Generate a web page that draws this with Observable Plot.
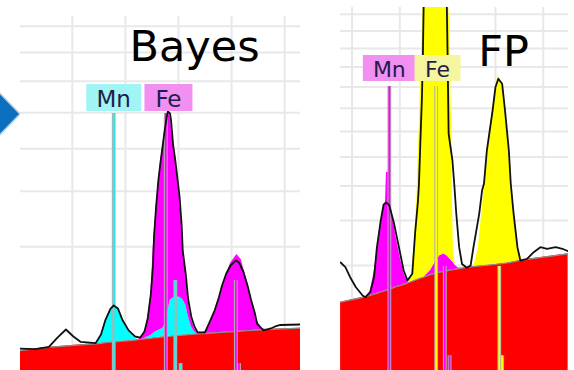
<!DOCTYPE html>
<html>
<head>
<meta charset="utf-8">
<script src="https://cdn.jsdelivr.net/npm/d3@7"></script>
<script src="https://cdn.jsdelivr.net/npm/@observablehq/plot@0.6"></script>
<style>
  html, body { margin: 0; padding: 0; background: #fff; overflow: hidden; }
  #page { position: relative; width: 574px; height: 370px; overflow: hidden; background: #fff; }
  .panel { position: absolute; top: 0; height: 370px; overflow: hidden; }
  #bayes { left: 20px; width: 280px; }
  #fp { left: 340px; width: 228px; }
  #arrow { position: absolute; left: 0; top: 0; }
</style>
</head>
<body>
<div id="page">
  <svg id="arrow" width="24" height="170">
    <polygon points="-10,83 20,114 -10,145" fill="#0a6fbf" stroke="#b9cfe2" stroke-width="1.5"></polygon>
  </svg>
  <div id="bayes" class="panel"></div>
  <div id="fp" class="panel"></div>
</div>
<script>
// Emission line markers (keV): Kα, Kβ and a minor line for each element,
// with intensities relative to Kα.
const lineElements = ["Mn", "Mn", "Mn", "Fe", "Fe", "Fe"];
const lineEnergies = [5.89, 6.47, 6.52, 6.38, 7.04, 7.07];
const lineRelative = [1, 0.14, 0.004, 1, 0.14, 0.004];

// Element tags shown above the Kα lines
const labelElements = ["Mn", "Fe"];
const labelEnergies = [5.89, 6.38];

// Vertical grid (keV)
const gridEnergies = [5.5, 6.0, 6.5, 7.0, 7.5];

// ---- Bayes fit ----
const bayesEnergy = [5.01, 5.29, 5.58, 5.72, 5.77, 5.81, 5.86, 5.89, 5.93, 5.97, 6.03, 6.09, 6.12, 6.16, 6.20, 6.24, 6.26, 6.29, 6.32, 6.35, 6.38, 6.40, 6.42, 6.45, 6.48, 6.51, 6.54, 6.57, 6.59, 6.62, 6.65, 6.68, 6.71, 6.75, 6.80, 6.85, 6.90, 6.94, 6.99, 7.05, 7.09, 7.14, 7.19, 7.23, 7.28, 7.33, 7.37, 7.65];
const bayesBackground = [50, 62, 71, 75, 77, 80, 82, 83, 84, 86, 88, 91, 93, 95, 98, 99, 101, 103, 104, 106, 107, 108, 109, 111, 112, 113, 115, 116, 117, 119, 120, 121, 122, 123, 125, 127, 129, 130, 132, 135, 136, 138, 140, 142, 143, 145, 146, 153];
const bayesMn = [0, 0, 0, 3, 36, 115, 199, 231, 205, 121, 46, 7, 0, 0, 6, 14, 22, 31, 38, 45, 74, 150, 248, 269, 277, 273, 252, 198, 119, 44, 12, 0, 0, 0, 0, 0, 0, 0, 0, 0, 0, 0, 0, 0, 0, 0, 0, 0];
const bayesFe = [0, 0, 0, 0, 0, 0, 0, 0, 0, 0, 0, 0, 0, 13, 66, 290, 820, 1575, 2272, 2905, 3533, 3780, 3532, 2834, 2119, 1503, 728, 301, 121, 52, 20, 3, 0, 11, 62, 146, 304, 462, 632, 751, 681, 443, 226, 73, 8, 0, 0, 0];
const bayesMeasuredEnergy = [5.01, 5.15, 5.28, 5.36, 5.44, 5.51, 5.58, 5.72, 5.77, 5.81, 5.86, 5.89, 5.93, 5.97, 6.03, 6.09, 6.14, 6.18, 6.21, 6.24, 6.26, 6.27, 6.29, 6.31, 6.33, 6.35, 6.37, 6.39, 6.40, 6.42, 6.43, 6.45, 6.47, 6.49, 6.51, 6.53, 6.54, 6.57, 6.59, 6.62, 6.65, 6.68, 6.75, 6.80, 6.84, 6.88, 6.91, 6.95, 6.99, 7.04, 7.07, 7.11, 7.15, 7.18, 7.22, 7.24, 7.30, 7.37, 7.41, 7.46, 7.65];
const bayesMeasured = [57, 55, 63, 103, 145, 108, 83, 78, 118, 201, 289, 314, 289, 208, 140, 108, 103, 134, 214, 422, 738, 1173, 1709, 2232, 2652, 3055, 3488, 3889, 4038, 3978, 3772, 3082, 2701, 2277, 1889, 1341, 943, 615, 375, 229, 163, 129, 129, 201, 273, 384, 504, 639, 738, 804, 777, 663, 504, 375, 250, 181, 140, 151, 163, 172, 175];
const bayesGridCounts = [1000, 2000, 3000, 4000, 5000, 6000, 7000];

// ---- FP fit ----
const fpEnergy = [5.38, 5.59, 5.65, 5.69, 5.73, 5.78, 5.82, 5.85, 5.86, 5.89, 5.90, 5.93, 5.96, 6.01, 6.05, 6.09, 6.12, 6.15, 6.18, 6.215, 6.25, 6.32, 6.38, 6.42, 6.46, 6.49, 6.52, 6.54, 6.55, 6.56, 6.58, 6.61, 6.65, 6.70, 6.74, 6.78, 6.82, 6.86, 6.91, 6.95, 6.99, 7.03, 7.07, 7.12, 7.16, 7.20, 7.24, 7.28, 7.37, 7.76];
const fpBackground = [438, 493, 510, 523, 541, 560, 578, 592, 597, 611, 617, 631, 646, 665, 687, 707, 724, 743, 760, 778, 796, 838, 867, 880, 892, 903, 914, 919, 922, 926, 931, 940, 951, 963, 974, 982, 989, 996, 1004, 1011, 1019, 1028, 1035, 1047, 1060, 1073, 1089, 1100, 1127, 1227];
const fpMn = [0, 0, 5, 55, 334, 1000, 1693, 1936, 2852, 2838, 1852, 1397, 960, 429, 137, 0, 0, 0, 0, 0, 0, 72, 227, 313, 331, 290, 219, 175, 153, 130, 69, 14, 0, 0, 0, 0, 0, 0, 0, 0, 0, 0, 0, 0, 0, 0, 0, 0, 0, 0];
const fpFe = [0, 0, 0, 0, 0, 0, 0, 0, 0, 0, 0, 0, 0, 0, 0, 0, 100, 704, 1947, 6049, 12204, 16090, 17406, 16307, 14277, 11807, 9482, 4365, 1482, 240, 0, 0, 0, 0, 0, 37, 349, 1275, 2796, 4277, 5665, 6592, 5986, 3990, 2287, 1088, 249, 0, 0, 0];
const fpMeasuredEnergy = [5.38, 5.43, 5.48, 5.54, 5.61, 5.64, 5.69, 5.73, 5.76, 5.80, 5.83, 5.86, 5.89, 5.94, 5.99, 6.04, 6.08, 6.13, 6.16, 6.19, 6.20, 6.215, 6.23, 6.24, 6.25, 6.36, 6.49, 6.50, 6.51, 6.55, 6.57, 6.59, 6.62, 6.65, 6.70, 6.74, 6.77, 6.83, 6.86, 6.88, 6.91, 6.97, 7.00, 7.03, 7.07, 7.10, 7.14, 7.16, 7.19, 7.23, 7.26, 7.33, 7.40, 7.47, 7.54, 7.63, 7.70, 7.76];
const fpMeasured = [1056, 969, 796, 640, 523, 501, 568, 796, 1366, 2002, 2441, 2498, 2412, 1916, 1366, 910, 743, 853, 1701, 2557, 3083, 4631, 6354, 8349, 12000, 20000, 12000, 8349, 4913, 3872, 3018, 2188, 1366, 1028, 958, 1000, 1366, 2180, 2860, 3083, 4243, 5898, 6987, 7403, 7154, 5898, 4243, 3083, 2180, 1366, 1094, 1127, 1260, 1366, 1332, 1366, 1332, 1281];
const fpGridCounts = [1000, 2000, 3000, 4000, 5000, 6000, 7000, 8000, 9000, 10000, 11000];

const HEIGHT = 370;
const GRID = "#e8e8e8";

function spectrumPanel(cfg) {
  // stacked fit: background, then Mn, then Fe on top
  const fit = cfg.energy.map((E, i) => {
    const bg = cfg.background[i];
    const mnTop = bg + cfg.mn[i];
    return {E, bg, mnTop, feTop: mnTop + cfg.fe[i]};
  });
  const measured = cfg.measuredEnergy.map((E, i) => ({E, counts: cfg.measured[i]}));
  const lines = lineEnergies.map((E, i) => ({E, el: lineElements[i], top: cfg.lineTop * lineRelative[i]}));
  const labels = labelElements.map((el, i) => ({el, E: labelEnergies[i]}));

  const lineMarks = ["Mn", "Fe"].flatMap((el) => {
    const sub = lines.filter((d) => d.el === el);
    return [
      Plot.ruleX(sub, {x: "E", y1: 0, y2: "top", stroke: "#b0b0b0", strokeWidth: 3.8, clip: true}),
      Plot.ruleX(sub, {x: "E", y1: 0, y2: "top", stroke: cfg.colors[el], strokeWidth: 1.8, clip: true})
    ];
  });

  const labelMarks = labels.flatMap((d, i) => [
    Plot.ruleX([d], {
      x: "E", dx: cfg.labelNudge[i],
      stroke: cfg.labelFill[d.el], strokeWidth: cfg.labelWidth[i],
      insetTop: cfg.labelBox[0] - cfg.top, insetBottom: HEIGHT - cfg.labelBox[1]
    }),
    Plot.text([d], {
      x: "E", text: "el", dx: cfg.labelNudge[i],
      frameAnchor: "top", lineAnchor: "bottom", dy: cfg.labelBaseline - cfg.top,
      fontSize: cfg.labelFont, fill: "#1d1d4a"
    })
  ]);

  return Plot.plot({
    width: cfg.width,
    height: HEIGHT,
    marginTop: cfg.top, marginBottom: 0, marginLeft: 0, marginRight: 0,
    x: {domain: cfg.xDomain, axis: null},
    y: {type: "sqrt", domain: [0, cfg.yMax], range: [cfg.zeroY, cfg.top], axis: null},
    style: {fontFamily: "'DejaVu Sans', Verdana, sans-serif", background: "white"},
    marks: [
      Plot.ruleX(gridEnergies, {stroke: GRID, strokeWidth: 2}),
      Plot.ruleY(cfg.gridCounts, {stroke: GRID, strokeWidth: 2}),
      Plot.text([cfg.title], {
        text: (d) => d, frameAnchor: "top-left", textAnchor: "start", lineAnchor: "bottom",
        dx: cfg.titleDx, dy: cfg.titleDy, fontSize: 43, fill: "#000"
      }),
      Plot.areaY(fit, {x: "E", y1: 0, y2: "bg", fill: "#ff0000", clip: true}),
      Plot.areaY(fit, {x: "E", y1: "bg", y2: "mnTop", fill: cfg.colors.Mn, clip: true}),
      Plot.areaY(fit, {x: "E", y1: "mnTop", y2: "feTop", fill: cfg.colors.Fe, clip: true}),
      Plot.lineY(fit, {x: "E", y: "bg", stroke: "#8e8e8e", strokeWidth: 1.2, clip: true}),
      ...lineMarks,
      Plot.line(measured, {x: "E", y: "counts", stroke: "#111", strokeWidth: 1.8, clip: true}),
      ...labelMarks
    ]
  });
}

document.getElementById("bayes").append(spectrumPanel({
  title: "Bayes", titleDx: 109, titleDy: 44.7,
  width: 280, top: 16, zeroY: 380, yMax: 7393,
  xDomain: [5.012, 7.649],
  energy: bayesEnergy, background: bayesBackground, mn: bayesMn, fe: bayesFe,
  measuredEnergy: bayesMeasuredEnergy, measured: bayesMeasured,
  gridCounts: bayesGridCounts,
  lineTop: 3978,
  colors: {Mn: "#00ffff", Fe: "#ff00ff"},
  labelFill: {Mn: "#a0f4f4", Fe: "#f290f2"},
  labelWidth: [55, 48], labelNudge: [0, 2.7],
  labelBox: [84, 111], labelBaseline: 106.7, labelFont: 23
}));

document.getElementById("fp").append(spectrumPanel({
  title: "FP", titleDx: 137.8, titleDy: 58.7,
  width: 228, top: 7, zeroY: 373.5, yMax: 11410,
  xDomain: [5.379, 7.764],
  energy: fpEnergy, background: fpBackground, mn: fpMn, fe: fpFe,
  measuredEnergy: fpMeasuredEnergy, measured: fpMeasured,
  gridCounts: fpGridCounts,
  lineTop: 7021,
  colors: {Mn: "#ff00ff", Fe: "#ffff00"},
  labelFill: {Mn: "#f290f2", Fe: "#f5f5a0"},
  labelWidth: [53, 46], labelNudge: [0, 1.3],
  labelBox: [55, 81], labelBaseline: 76.7, labelFont: 22
}));
</script>
</body>
</html>
